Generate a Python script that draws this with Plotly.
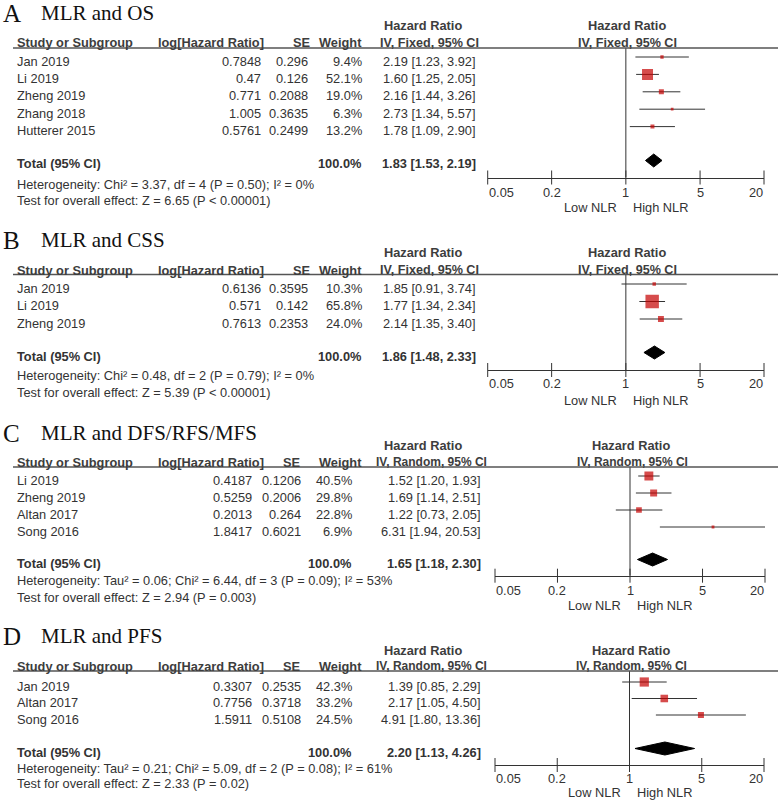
import math
import plotly.graph_objects as go

W, H = 778, 800

# ---------------- data ----------------
tick_vals = [0.05, 0.2, 1, 5, 20]
tick_text = ["0.05", "0.2", "1", "5", "20"]

A_letter, A_title = "A", "MLR and OS"
A_method = "IV, Fixed, 95% CI"
A_study = ["Jan 2019", "Li 2019", "Zheng 2019", "Zhang 2018", "Hutterer 2015"]
A_loghr = [0.7848, 0.47, 0.771, 1.005, 0.5761]
A_se = [0.296, 0.126, 0.2088, 0.3635, 0.2499]
A_weight = [9.4, 52.1, 19.0, 6.3, 13.2]
A_hr = [2.19, 1.60, 2.16, 2.73, 1.78]
A_lo = [1.23, 1.25, 1.44, 1.34, 1.09]
A_hi = [3.92, 2.05, 3.26, 5.57, 2.90]
A_total = [1.83, 1.53, 2.19]
A_total_weight = 100.0
A_het = "Heterogeneity: Chi² = 3.37, df = 4 (P = 0.50); I² = 0%"
A_test = "Test for overall effect: Z = 6.65 (P < 0.00001)"

B_letter, B_title = "B", "MLR and CSS"
B_method = "IV, Fixed, 95% CI"
B_study = ["Jan 2019", "Li 2019", "Zheng 2019"]
B_loghr = [0.6136, 0.571, 0.7613]
B_se = [0.3595, 0.142, 0.2353]
B_weight = [10.3, 65.8, 24.0]
B_hr = [1.85, 1.77, 2.14]
B_lo = [0.91, 1.34, 1.35]
B_hi = [3.74, 2.34, 3.40]
B_total = [1.86, 1.48, 2.33]
B_total_weight = 100.0
B_het = "Heterogeneity: Chi² = 0.48, df = 2 (P = 0.79); I² = 0%"
B_test = "Test for overall effect: Z = 5.39 (P < 0.00001)"

C_letter, C_title = "C", "MLR and DFS/RFS/MFS"
C_method = "IV, Random, 95% CI"
C_study = ["Li 2019", "Zheng 2019", "Altan 2017", "Song 2016"]
C_loghr = [0.4187, 0.5259, 0.2013, 1.8417]
C_se = [0.1206, 0.2006, 0.264, 0.6021]
C_weight = [40.5, 29.8, 22.8, 6.9]
C_hr = [1.52, 1.69, 1.22, 6.31]
C_lo = [1.20, 1.14, 0.73, 1.94]
C_hi = [1.93, 2.51, 2.05, 20.53]
C_total = [1.65, 1.18, 2.30]
C_total_weight = 100.0
C_het = "Heterogeneity: Tau² = 0.06; Chi² = 6.44, df = 3 (P = 0.09); I² = 53%"
C_test = "Test for overall effect: Z = 2.94 (P = 0.003)"

D_letter, D_title = "D", "MLR and PFS"
D_method = "IV, Random, 95% CI"
D_study = ["Jan 2019", "Altan 2017", "Song 2016"]
D_loghr = [0.3307, 0.7756, 1.5911]
D_se = [0.2535, 0.3718, 0.5108]
D_weight = [42.3, 33.2, 24.5]
D_hr = [1.39, 2.17, 4.91]
D_lo = [0.85, 1.05, 1.80]
D_hi = [2.29, 4.50, 13.36]
D_total = [2.20, 1.13, 4.26]
D_total_weight = 100.0
D_het = "Heterogeneity: Tau² = 0.21; Chi² = 5.09, df = 2 (P = 0.08); I² = 61%"
D_test = "Test for overall effect: Z = 2.33 (P = 0.02)"

# ---------------- layout (pixel positions) ----------------
COLS_AB = dict(study=15.7, loghr=262, se=309, wt=363, hr=477, h_loghr=157, h_se=312, h_wt=363, h_hr=383,
               h_iv=480, iv_size=12.6)
COLS_CD = dict(study=15.7, loghr=253, se=301.7, wt=353, hr=482, h_loghr=157, h_se=302, h_wt=363, h_hr=383,
               h_iv=488, iv_size=12.0)

panels = [
    dict(letter=A_letter, title=A_title, method=A_method, study=A_study, loghr=A_loghr, se=A_se,
         weight=A_weight, hr=A_hr, lo=A_lo, hi=A_hi, total=A_total, tw=A_total_weight, het=A_het, test=A_test,
         title_y=13.5, hr_y=26, hdr_y=43, line_y=48, row0=61, sp=17.4, total_y=164, het_y=184,
         test_y=201, axis_y=177.5, tick_y=193, nlr_y=207, x0=487.7, x1=764, cols=COLS_AB),
    dict(letter=B_letter, title=B_title, method=B_method, study=B_study, loghr=B_loghr, se=B_se,
         weight=B_weight, hr=B_hr, lo=B_lo, hi=B_hi, total=B_total, tw=B_total_weight, het=B_het, test=B_test,
         title_y=240, hr_y=252.5, hdr_y=270, line_y=274.5, row0=288, sp=17.5, total_y=356, het_y=375,
         test_y=392, axis_y=370, tick_y=383.5, nlr_y=400, x0=487.7, x1=764, cols=COLS_AB),
    dict(letter=C_letter, title=C_title, method=C_method, study=C_study, loghr=C_loghr, se=C_se,
         weight=C_weight, hr=C_hr, lo=C_lo, hi=C_hi, total=C_total, tw=C_total_weight, het=C_het, test=C_test,
         title_y=433, hr_y=445, hdr_y=462, line_y=467, row0=480, sp=17, total_y=563, het_y=580,
         test_y=597, axis_y=575.7, tick_y=590, nlr_y=605, x0=495, x1=765, cols=COLS_CD),
    dict(letter=D_letter, title=D_title, method=D_method, study=D_study, loghr=D_loghr, se=D_se,
         weight=D_weight, hr=D_hr, lo=D_lo, hi=D_hi, total=D_total, tw=D_total_weight, het=D_het, test=D_test,
         title_y=636, hr_y=650, hdr_y=666, line_y=671, row0=686, sp=16.5, total_y=752, het_y=768,
         test_y=783, axis_y=765, tick_y=778.5, nlr_y=792, x0=495, x1=764, cols=COLS_CD),
]

SANS = "Liberation Sans, Arial, sans-serif"
SERIF = "Liberation Serif, Times New Roman, serif"
TXT = "#333333"
HDR = "#3d3d3d"
LINE = "#333333"
RED = "#C40000"
FS = 12.8

fig = go.Figure()
annotations = []
shapes = []


def py(y):
    return 1 - y / H


def txt(x, y, s, anchor="left", size=FS, bold=False, family=SANS, color=TXT, xref="paper", xshift=0):
    annotations.append(dict(
        x=(x / W) if xref == "paper" else x, y=py(y), xref=xref, yref="paper",
        text=(f"<b>{s}</b>" if bold else s), showarrow=False, xanchor=anchor, yanchor="middle",
        xshift=xshift, borderpad=0, font=dict(family=family, size=size, color=color)))


for k, p in enumerate(panels, start=1):
    sfx = "" if k == 1 else str(k)
    xname, yname = "x" + sfx, "y" + sfx
    c = p["cols"]
    fig.update_layout({
        "xaxis" + sfx: dict(type="log", range=[math.log10(tick_vals[0]), math.log10(tick_vals[-1])],
                            domain=[p["x0"] / W, p["x1"] / W], anchor=yname, showline=True,
                            linecolor=LINE, linewidth=1, ticks="", showticklabels=False,
                            showgrid=False, zeroline=False, fixedrange=True),
        "yaxis" + sfx: dict(domain=[py(p["axis_y"]), py(p["line_y"])], range=[p["axis_y"], p["line_y"]],
                            visible=False, fixedrange=True, anchor=xname),
    })

    n = len(p["study"])
    row_y = [p["row0"] + i * p["sp"] for i in range(n)]
    mark_y = [y - 4 for y in row_y]

    # no-effect line
    fig.add_trace(go.Scatter(x=[1, 1], y=[p["line_y"], p["axis_y"]], mode="lines",
                             line=dict(color=LINE, width=1), xaxis=xname, yaxis=yname,
                             hoverinfo="skip", showlegend=False))
    # CI lines
    cx, cy = [], []
    for lo, hi, y in zip(p["lo"], p["hi"], mark_y):
        cx += [lo, hi, None]
        cy += [y, y, None]
    fig.add_trace(go.Scatter(x=cx, y=cy, mode="lines", line=dict(color=LINE, width=1),
                             xaxis=xname, yaxis=yname, hoverinfo="skip", showlegend=False))
    # squares
    fig.add_trace(go.Scatter(x=p["hr"], y=mark_y, mode="markers",
                             marker=dict(symbol="square", color=RED,
                                         size=[1.6 + 0.18 * w for w in p["weight"]],
                                         line=dict(width=0)),
                             xaxis=xname, yaxis=yname, hoverinfo="skip", showlegend=False))
    # diamond
    est, tlo, thi = p["total"]
    yc = p["total_y"] - 3.5
    hh = 6.5
    fig.add_trace(go.Scatter(x=[tlo, est, thi, est, tlo], y=[yc, yc - hh, yc, yc + hh, yc],
                             mode="lines", fill="toself", fillcolor="black",
                             line=dict(color="black", width=1), xaxis=xname, yaxis=yname,
                             hoverinfo="skip", showlegend=False))
    # crossing tick marks
    fig.add_trace(go.Scatter(x=tick_vals, y=[p["axis_y"]] * len(tick_vals), mode="markers",
                             marker=dict(symbol="line-ns-open", size=10, color=LINE,
                                         line=dict(width=1, color=LINE)),
                             cliponaxis=False, xaxis=xname, yaxis=yname,
                             hoverinfo="skip", showlegend=False))
    # tick labels
    for i, (v, t) in enumerate(zip(tick_vals, tick_text)):
        anc = "left" if i == 0 else ("right" if i == len(tick_vals) - 1 else "center")
        txt(math.log10(v), p["tick_y"], t, anchor=anc, xref=xname)
    txt(0, p["nlr_y"], "Low NLR", anchor="right", xref=xname, xshift=-8)
    txt(0, p["nlr_y"], "High NLR", anchor="left", xref=xname, xshift=6)

    # titles
    txt(2, p["title_y"], p["letter"], size=25, family=SERIF, color="#111111")
    txt(40, p["title_y"], p["title"], size=21, family=SERIF, color="#111111")

    # headers
    txt(c["h_hr"], p["hr_y"], "Hazard Ratio", bold=True, color=HDR)
    txt(0, p["hr_y"], "Hazard Ratio", anchor="center", bold=True, color=HDR, xref=xname, xshift=1)
    txt(c["study"], p["hdr_y"], "Study or Subgroup", bold=True, color=HDR)
    txt(c["h_loghr"], p["hdr_y"], "log[Hazard Ratio]", bold=True, color=HDR)
    txt(c["h_se"], p["hdr_y"], "SE", anchor="right", bold=True, color=HDR)
    txt(c["h_wt"], p["hdr_y"], "Weight", anchor="right", bold=True, color=HDR)
    txt(c["h_iv"], p["hdr_y"], p["method"], anchor="right", bold=True, color=HDR, size=c["iv_size"])
    txt(0, p["hdr_y"], p["method"], anchor="center", bold=True, color=HDR, xref=xname, xshift=2,
        size=c["iv_size"])
    shapes.append(dict(type="line", xref="paper", yref="paper", x0=13 / W, x1=1,
                       y0=py(p["line_y"]), y1=py(p["line_y"]), line=dict(color="#555555", width=1.3)))

    # rows
    for i in range(n):
        y = row_y[i]
        txt(c["study"], y, p["study"][i])
        txt(c["loghr"], y, str(p["loghr"][i]), anchor="right")
        txt(c["se"], y, str(p["se"][i]), anchor="right")
        txt(c["wt"], y, f"{p['weight'][i]:.1f}%", anchor="right")
        txt(c["hr"], y, f"{p['hr'][i]:.2f} [{p['lo'][i]:.2f}, {p['hi'][i]:.2f}]", anchor="right")

    # total
    txt(c["study"], p["total_y"], "Total (95% CI)", bold=True)
    txt(c["wt"], p["total_y"], f"{p['tw']:.1f}%", anchor="right", bold=True)
    txt(c["hr"], p["total_y"], f"{est:.2f} [{tlo:.2f}, {thi:.2f}]", anchor="right", bold=True)
    txt(c["study"], p["het_y"], p["het"])
    txt(c["study"], p["test_y"], p["test"])

fig.update_layout(width=W, height=H, margin=dict(l=0, r=0, t=0, b=0),
                  paper_bgcolor="white", plot_bgcolor="white",
                  annotations=annotations, shapes=shapes, showlegend=False)

fig.write_html("out.html", config={"displayModeBar": False},
               post_script="document.body.style.margin='0';document.body.style.overflow='hidden';")
